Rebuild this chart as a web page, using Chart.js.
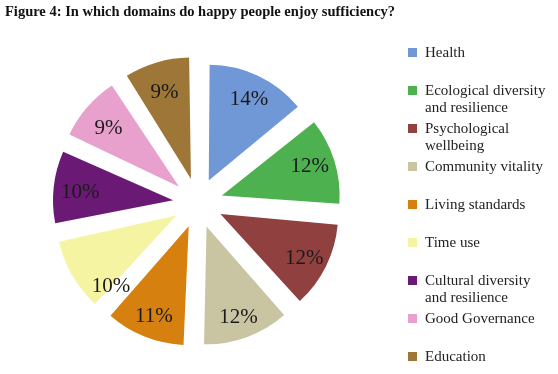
<!DOCTYPE html>
<html>
<head>
<meta charset="utf-8">
<script src="https://cdn.jsdelivr.net/npm/chart.js@4.4.1/dist/chart.umd.min.js"></script>
<style>
  html, body { margin: 0; padding: 0; background: #fff; }
  #wrap { width: 558px; height: 374px; position: relative; }
</style>
</head>
<body>
<div id="wrap"><canvas id="pie"></canvas></div>
<script>
// domains, as in the legend (multi-line entries are arrays)
var domains = [
  'Health',
  ['Ecological diversity', 'and resilience'],
  ['Psychological', 'wellbeing'],
  'Community vitality',
  'Living standards',
  'Time use',
  ['Cultural diversity', 'and resilience'],
  'Good Governance',
  'Education'
];
// share of sufficiency, percent
var shares = [14, 12, 12, 12, 11, 10, 10, 9, 9];
var colors = [
  '#7097D6', '#4DB150', '#8F403F', '#C9C4A1', '#D6800F',
  '#F5F4A2', '#6A1A74', '#E8A1CC', '#9E7638'
];
// where along each slice the % label sits (0 = start edge, 1 = end edge)
var labelAt = [0.5, 0.45, 0.5, 0.5, 0.5, 0.15, 0.5, 0.5, 0.5];

var titleText = 'Figure 4: In which domains do happy people enjoy sufficiency?';
var serif = '"Liberation Serif", "DejaVu Serif", serif';

// title, legend and the % labels are drawn by hand
var extras = {
  id: 'extras',
  afterDraw: function(chart) {
    var ctx = chart.ctx;
    ctx.save();

    ctx.fillStyle = '#111';
    ctx.font = 'bold 14.5px ' + serif;
    ctx.textBaseline = 'middle';
    ctx.textAlign = 'left';
    ctx.fillText(titleText, 5, 12);

    // percent labels inside slices
    var meta = chart.getDatasetMeta(0);
    ctx.font = '21px ' + serif;
    ctx.textAlign = 'center';
    ctx.fillStyle = '#1a1a1a';
    meta.data.forEach(function(arc, i) {
      var mid = arc.startAngle + (arc.endAngle - arc.startAngle) * labelAt[i];
      var r = arc.options.offset / 4 + arc.outerRadius * 0.85;
      ctx.fillText(shares[i] + '%', arc.x + Math.cos(mid) * r, arc.y + Math.sin(mid) * r + 3);
    });

    // legend
    ctx.font = '15px ' + serif;
    ctx.textAlign = 'left';
    domains.forEach(function(label, i) {
      var y = 53 + i * 38;
      ctx.fillStyle = colors[i];
      ctx.fillRect(408, y - 5, 9, 9);
      ctx.fillStyle = '#222';
      var lines = Array.isArray(label) ? label : [label];
      lines.forEach(function(line, j) {
        ctx.fillText(line, 425, y + j * 17);
      });
    });
    ctx.restore();
  }
};

new Chart(document.getElementById('pie'), {
  type: 'pie',
  data: {
    labels: domains,
    datasets: [{
      data: shares,
      backgroundColor: colors,
      borderWidth: 0,
      offset: 100
    }]
  },
  options: {
    responsive: true,
    maintainAspectRatio: false,
    animation: false,
    layout: { padding: { top: 43, bottom: 11, left: 38, right: 200 } },
    plugins: {
      legend: { display: false },
      title: { display: false },
      tooltip: { enabled: false }
    }
  },
  plugins: [extras]
});
</script>
</body>
</html>
